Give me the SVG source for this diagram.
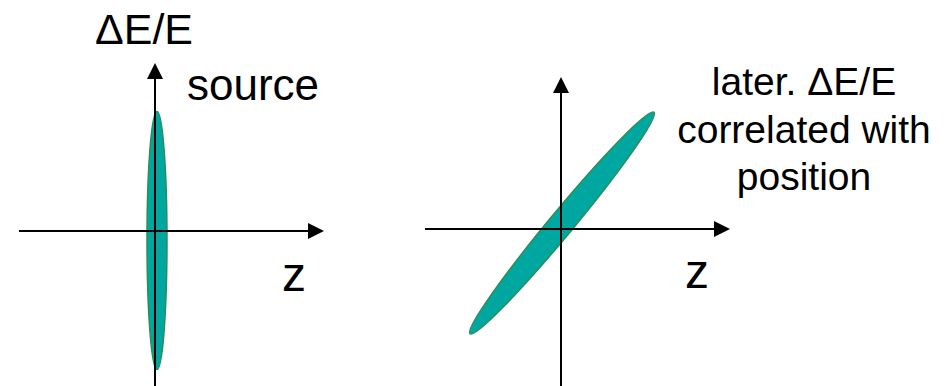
<svg xmlns="http://www.w3.org/2000/svg" width="949" height="386" viewBox="0 0 949 386">
<style>
.t{font-family:"Liberation Sans",Arial,sans-serif;fill:#000}
.ax{stroke:#000;stroke-width:2;fill:none;marker-end:url(#ah)}
.bunch{fill:#00a6a0;stroke:#2a8f55;stroke-width:1.5}
</style>
<defs>
<marker id="ah" viewBox="0 0 16 16" markerWidth="16" markerHeight="16" refX="8" refY="8" orient="auto" markerUnits="userSpaceOnUse">
<path d="M0,0 L16,8 L0,16 z" fill="#000"/>
</marker>
</defs>
<rect width="949" height="386" fill="#fff"/>
<g id="left-bunch"><ellipse class="bunch" cx="157" cy="240.5" rx="10" ry="129"/></g>
<g id="right-bunch"><ellipse class="bunch" cx="562" cy="223" rx="144" ry="12" transform="rotate(-50.3 562 223)"/></g>
<g id="connectors">
<line class="ax" x1="155" y1="386" x2="155" y2="71"/>
<line class="ax" x1="19" y1="231" x2="316" y2="231"/>
<line class="ax" x1="561" y1="386" x2="561" y2="85"/>
<line class="ax" x1="425" y1="229" x2="722" y2="229"/>
</g>
<g id="labels">
<text class="t" x="95" y="44" font-size="43">ΔE/E</text>
<text class="t" x="187" y="100" font-size="44">source</text>
<text class="t" x="282" y="291" font-size="48">z</text>
<text class="t" x="685" y="288" font-size="48">z</text>
<text class="t" x="804" y="95" font-size="39" text-anchor="middle">later. ΔE/E</text>
<text class="t" x="804" y="143" font-size="39" text-anchor="middle">correlated with</text>
<text class="t" x="804" y="190" font-size="39" text-anchor="middle">position</text>
</g>
</svg>
